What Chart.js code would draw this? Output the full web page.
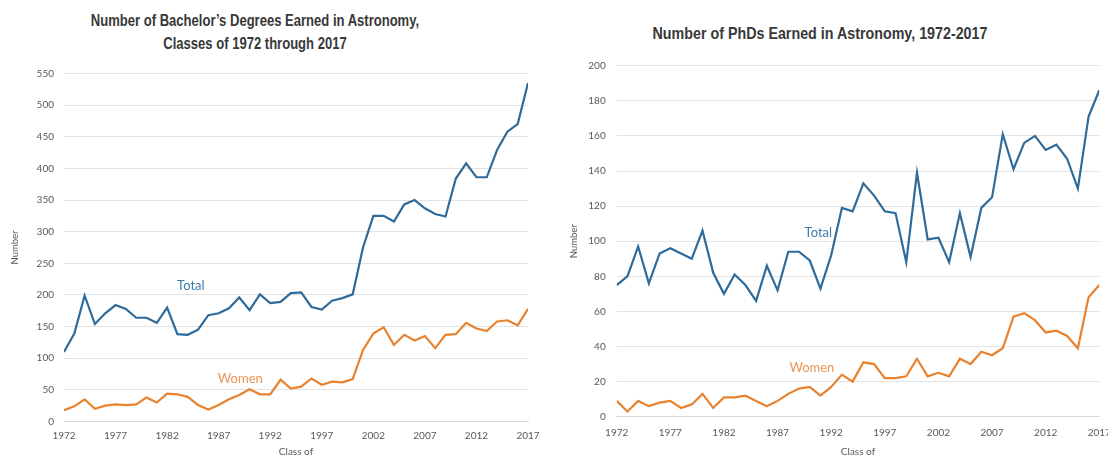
<!DOCTYPE html>
<html>
<head>
<meta charset="utf-8">
<title>Astronomy Degrees</title>
<script src="https://cdn.jsdelivr.net/npm/chart.js@4"></script>
<style>
    html, body {
        margin: 0;
        padding: 0;
        background: #fff;
        width: 1108px;
        height: 456px;
        overflow: hidden;
        position: relative;
    }
    .chart-title {
        position: absolute;
        text-align: center;
        font-family: "Liberation Sans", Arial, sans-serif;
        font-weight: bold;
        color: #383838;
        transform-origin: 50% 0;
    }
    #bachelor-title {
        left: 0; top: 9px; width: 510px;
        font-size: 16px; line-height: 23px;
        transform: scaleX(0.815);
    }
    #phd-title {
        left: 554px; top: 22px; width: 532px;
        font-size: 17px; line-height: 23px;
        transform: scaleX(0.84);
    }
    .chart-box { position: absolute; top: 0; height: 462px; }
    #bachelor-box { left: 0; width: 554px; }
    #phd-box { left: 554px; width: 570px; }
</style>
</head>
<body>
<div id="bachelor-title" class="chart-title">Number of Bachelor’s Degrees Earned in Astronomy,<br>Classes of 1972 through 2017</div>
<div id="phd-title" class="chart-title">Number of PhDs Earned in Astronomy, 1972-2017</div>
<div id="bachelor-box" class="chart-box"><canvas id="bachelor-chart"></canvas></div>
<div id="phd-box" class="chart-box"><canvas id="phd-chart"></canvas></div>

<script>
// Class years
const years = [
    1972, 1973, 1974, 1975, 1976, 1977, 1978, 1979, 1980, 1981,
    1982, 1983, 1984, 1985, 1986, 1987, 1988, 1989, 1990, 1991,
    1992, 1993, 1994, 1995, 1996, 1997, 1998, 1999, 2000, 2001,
    2002, 2003, 2004, 2005, 2006, 2007, 2008, 2009, 2010, 2011,
    2012, 2013, 2014, 2015, 2016, 2017
];

// Bachelor's degrees
const bachelorTotal = [
    110, 139, 199, 154, 171, 184, 178, 164, 164, 156,
    180, 138, 137, 145, 168, 171, 179, 196, 176, 201,
    187, 189, 203, 204, 181, 177, 191, 195, 201, 275,
    325, 325, 316, 343, 350, 337, 328, 324, 384, 408,
    386, 386, 429, 458, 470, 535
];
const bachelorWomen = [
    18, 24, 35, 20, 25, 27, 26, 27, 38, 30,
    44, 43, 39, 26, 19, 26, 35, 42, 51, 43,
    43, 66, 52, 55, 68, 58, 63, 62, 67, 113,
    139, 149, 121, 137, 128, 135, 116, 137, 138, 156,
    147, 143, 158, 160, 152, 178
];

// PhDs
const phdTotal = [
    75, 80, 97, 76, 93, 96, 93, 90, 106, 82,
    70, 81, 75, 66, 86, 72, 94, 94, 89, 73,
    92, 119, 117, 133, 126, 117, 116, 88, 139, 101,
    102, 88, 116, 91, 119, 125, 161, 141, 156, 160,
    152, 155, 147, 130, 171, 186
];
const phdWomen = [
    9, 3, 9, 6, 8, 9, 5, 7, 13, 5,
    11, 11, 12, 9, 6, 9, 13, 16, 17, 12,
    17, 24, 20, 31, 30, 22, 22, 23, 33, 23,
    25, 23, 33, 30, 37, 35, 39, 57, 59, 55,
    48, 49, 46, 39, 68, 75
];

// Axis ticks
const bachelorTicks = [0, 50, 100, 150, 200, 250, 300, 350, 400, 450, 500, 550];
const phdTicks = [0, 20, 40, 60, 80, 100, 120, 140, 160, 180, 200];
const yearTicks = [1972, 1977, 1982, 1987, 1992, 1997, 2002, 2007, 2012, 2017];

const BLUE = '#2f6b9a';
const ORANGE = '#e8822f';
const TICK_FONT = { family: 'Lato, "Open Sans", sans-serif', size: 10 };

// Draws the "Total" / "Women" tags next to their lines
const seriesLabels = {
    id: 'seriesLabels',
    afterDatasetsDraw(chart, args, opts) {
        const { ctx, scales: { x, y } } = chart;
        (opts.items || []).forEach(item => {
            ctx.save();
            ctx.font = '13px Lato, "Open Sans", sans-serif';
            ctx.fillStyle = item.color;
            ctx.textAlign = 'center';
            ctx.textBaseline = 'middle';
            ctx.fillText(item.text, x.getPixelForValue(item.year), y.getPixelForValue(item.value));
            ctx.restore();
        });
    }
};

function toPoints(values) {
    return values.map((v, i) => ({ x: years[i], y: v }));
}

function lineSet(label, values, color) {
    return {
        label: label,
        data: toPoints(values),
        borderColor: color,
        backgroundColor: color,
        borderWidth: 2.2,
        pointRadius: 0,
        tension: 0
    };
}

function buildChart(id, cfg) {
    const ctx = document.getElementById(id).getContext('2d');
    return new Chart(ctx, {
        type: 'line',
        data: {
            datasets: [
                lineSet('Total', cfg.total, BLUE),
                lineSet('Women', cfg.women, ORANGE)
            ]
        },
        options: {
            responsive: true,
            maintainAspectRatio: false,
            animation: false,
            layout: {
                padding: { left: 0, right: cfg.padRight, top: cfg.padTop, bottom: 0 }
            },
            scales: {
                x: {
                    type: 'linear',
                    min: 1972,
                    max: 2017,
                    afterFit: scale => { scale.height = cfg.xHeight; },
                    afterBuildTicks: scale => {
                        scale.ticks = yearTicks.map(v => ({ value: v }));
                    },
                    ticks: {
                        color: '#595959',
                        font: TICK_FONT,
                        padding: cfg.xPad,
                        maxRotation: 0,
                        autoSkip: false,
                        callback: v => String(v)
                    },
                    grid: { display: false, drawTicks: false },
                    border: { display: true, color: '#d9d9d9', width: 1 },
                    title: {
                        display: true,
                        text: 'Class of',
                        color: '#595959',
                        font: { family: 'Lato, "Open Sans", sans-serif', size: 10 },
                        padding: { top: 0, bottom: 4 }
                    }
                },
                y: {
                    min: 0,
                    max: cfg.yTicks[cfg.yTicks.length - 1],
                    afterFit: scale => { scale.width = cfg.yWidth; },
                    afterBuildTicks: scale => {
                        scale.ticks = cfg.yTicks.map(v => ({ value: v }));
                    },
                    ticks: {
                        color: '#595959',
                        font: TICK_FONT,
                        padding: cfg.yPad
                    },
                    grid: { color: '#e3e3e3', lineWidth: 1, drawTicks: false },
                    border: { display: false },
                    title: {
                        display: true,
                        text: 'Number',
                        color: '#595959',
                        font: { family: 'Lato, "Open Sans", sans-serif', size: 9.5 },
                        padding: { top: cfg.yTitlePad, bottom: 0 }
                    }
                }
            },
            plugins: {
                legend: { display: false },
                tooltip: { enabled: false },
                seriesLabels: { items: cfg.labels }
            }
        },
        plugins: [seriesLabels]
    });
}

buildChart('bachelor-chart', {
    total: bachelorTotal,
    women: bachelorWomen,
    yTicks: bachelorTicks,
    padTop: 73.5,
    padRight: 26,
    yWidth: 64,
    xHeight: 40.5,
    xPad: 8,
    yPad: 10,
    yTitlePad: 9.5,
    labels: [
        { text: 'Total', year: 1984.3, value: 214, color: '#3d7cab' },
        { text: 'Women', year: 1989.1, value: 68, color: '#eb9658' }
    ]
});

buildChart('phd-chart', {
    total: phdTotal,
    women: phdWomen,
    yTicks: phdTicks,
    padTop: 65.7,
    padRight: 24.7,
    yWidth: 62.7,
    xHeight: 45.3,
    xPad: 10,
    yPad: 11,
    yTitlePad: 14,
    labels: [
        { text: 'Total', year: 1990.8, value: 105, color: '#3d7cab' },
        { text: 'Women', year: 1990.2, value: 27.6, color: '#eb9658' }
    ]
});
</script>
</body>
</html>
